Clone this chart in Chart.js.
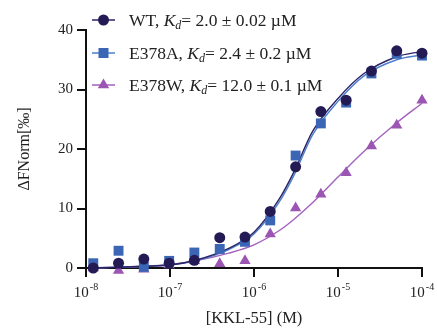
<!DOCTYPE html>
<html>
<head>
<meta charset="utf-8">
<script src="https://cdn.jsdelivr.net/npm/chart.js@4"></script>
<style>
  body { margin: 0; background: #fff; }
</style>
</head>
<body>
<canvas id="kdChart" width="437" height="329"></canvas>
<script>
// Measured points (concentration in M, response in per mille)
const conc = [1.22e-8, 2.44e-8, 4.88e-8, 9.77e-8, 1.95e-7, 3.91e-7, 7.81e-7,
              1.56e-6, 3.13e-6, 6.25e-6, 1.25e-5, 2.5e-5, 5e-5, 1e-4];
const wtValues    = [0.0, 0.8, 1.5, 0.8, 1.3, 5.1, 5.2, 9.5, 17.0, 26.3, 28.2, 33.1, 36.5, 36.1];
const e378aValues = [0.8, 2.9, 0.2, 1.2, 2.6, 3.2, 4.4, 8.0, 18.9, 24.3, 27.8, 32.7, 36.0, 35.7];
const e378wValues = [0.0, -0.4, -0.2, 0.5, 1.2, 0.7, 1.2, 5.7, 10.1, 12.4, 16.0, 20.5, 24.0, 28.2];

// Fitted curves
const fitConc = [1.2e-8, 2e-8, 5e-8, 1e-7, 2e-7, 5e-7, 1e-6, 2e-6, 3e-6, 5e-6, 1e-5, 2e-5, 5e-5, 1e-4];
const wtFit    = [0.0, 0.1, 0.3, 0.5, 1.3, 3.3, 6.0, 11.6, 16.2, 23.0, 28.5, 32.6, 35.5, 36.4];
const e378aFit = [0.0, 0.1, 0.3, 0.5, 1.2, 3.1, 5.7, 11.1, 15.6, 22.4, 28.0, 32.2, 35.0, 35.8];
const e378wFit = [0.0, 0.1, 0.3, 0.6, 1.2, 2.5, 3.9, 6.3, 8.2, 11.0, 15.3, 19.5, 24.4, 27.7];

const seriesNames = ["WT, ", "E378A, ", "E378W, "];
const kdTexts = ["= 2.0 \u00b1 0.02 \u00b5M", "= 2.4 \u00b1 0.2 \u00b5M", "= 12.0 \u00b1 0.1 \u00b5M"];

const xTickValues = [1e-8, 1e-7, 1e-6, 1e-5, 1e-4];
const xTickExps = ["-8", "-7", "-6", "-5", "-4"];
const yTickValues = [0, 10, 20, 30, 40];

const colors = ["#241b55", "#3b66b5", "#9b55b3"];
const curveColors = ["#2b2366", "#4d7fcc", "#a460bd"];
const styles = ["circle", "rect", "triangle"];
const radii = [5.5, 7, 6.5];

const serif = '"Liberation Serif", "Times New Roman", serif';

function pts(xs, ys) {
    return xs.map((x, i) => ({ x: x, y: ys[i] }));
}

const pointSets = [wtValues, e378aValues, e378wValues];
const fitSets = [wtFit, e378aFit, e378wFit];

const datasets = [];
pointSets.forEach((vals, i) => {
    datasets.push({
        data: pts(conc, vals),
        showLine: false,
        pointStyle: styles[i],
        pointRadius: radii[i],
        pointBackgroundColor: colors[i],
        pointBorderColor: colors[i],
        pointBorderWidth: 0,
        clip: false,
        order: i
    });
});
fitSets.forEach((vals, i) => {
    datasets.push({
        data: pts(fitConc, vals),
        showLine: true,
        pointRadius: 0,
        borderColor: curveColors[i],
        borderWidth: 1.4,
        cubicInterpolationMode: "monotone",
        clip: false,
        order: 10 + i
    });
});

// x tick labels with superscript exponent, and the legend
const drawExtras = {
    id: "drawExtras",
    afterDraw(chart) {
        const ctx = chart.ctx;
        const xs = chart.scales.x;
        ctx.save();
        ctx.fillStyle = "#222";
        ctx.textBaseline = "alphabetic";
        xTickValues.forEach((v, i) => {
            const px = xs.getPixelForValue(v);
            ctx.font = "15px " + serif;
            const bw = ctx.measureText("10").width;
            ctx.font = "10px " + serif;
            const ew = ctx.measureText(xTickExps[i]).width;
            const x0 = px - (bw + ew + 1) / 2;
            ctx.font = "15px " + serif;
            ctx.fillText("10", x0, 297);
            ctx.font = "10px " + serif;
            ctx.fillText(xTickExps[i], x0 + bw + 1, 290);
        });

        // legend
        const rowY = [20, 53, 85];
        rowY.forEach((y, i) => {
            ctx.strokeStyle = curveColors[i];
            ctx.lineWidth = 1.5;
            ctx.beginPath();
            ctx.moveTo(92, y);
            ctx.lineTo(115, y);
            ctx.stroke();
            ctx.fillStyle = colors[i];
            ctx.beginPath();
            if (styles[i] === "circle") {
                ctx.arc(103.5, y, 5.5, 0, Math.PI * 2);
            } else if (styles[i] === "rect") {
                ctx.rect(98.5, y - 5, 10, 10);
            } else {
                ctx.moveTo(103.5, y - 6.5);
                ctx.lineTo(109.2, y + 3.3);
                ctx.lineTo(97.8, y + 3.3);
                ctx.closePath();
            }
            ctx.fill();

            ctx.fillStyle = "#222";
            let x = 129;
            const base = y + 6;
            ctx.font = "17.5px " + serif;
            ctx.fillText(seriesNames[i], x, base);
            x += ctx.measureText(seriesNames[i]).width;
            ctx.font = "italic 17.5px " + serif;
            ctx.fillText("K", x, base);
            x += ctx.measureText("K").width;
            ctx.font = "italic 12px " + serif;
            ctx.fillText("d", x, base + 3);
            x += ctx.measureText("d").width;
            ctx.font = "17.5px " + serif;
            ctx.fillText(kdTexts[i], x, base);
        });
        ctx.restore();
    }
};

const axisGrid = {
    drawOnChartArea: false,
    drawTicks: true,
    tickLength: 9,
    color: "#111",
    lineWidth: 2
};

new Chart(document.getElementById("kdChart"), {
    type: "scatter",
    data: { datasets: datasets },
    options: {
        responsive: false,
        animation: false,
        layout: { padding: { left: 15, right: 15, top: 30, bottom: 0 } },
        plugins: {
            legend: { display: false },
            tooltip: { enabled: false }
        },
        scales: {
            x: {
                type: "logarithmic",
                min: 1e-8,
                max: 1e-4,
                afterBuildTicks: s => { s.ticks = xTickValues.map(v => ({ value: v })); },
                afterFit: s => { s.height = 61; },
                ticks: { display: false },
                grid: axisGrid,
                border: { color: "#111", width: 2 },
                title: {
                    display: true,
                    text: "[KKL-55] (M)",
                    color: "#222",
                    font: { family: serif, size: 16.5 },
                    padding: 0
                }
            },
            y: {
                min: 0,
                max: 40,
                afterBuildTicks: s => { s.ticks = yTickValues.map(v => ({ value: v })); },
                afterFit: s => { s.width = 71; },
                ticks: {
                    color: "#222",
                    font: { family: serif, size: 15 },
                    padding: 4
                },
                grid: axisGrid,
                border: { color: "#111", width: 2 },
                title: {
                    display: true,
                    text: "\u0394FNorm[\u2030]",
                    color: "#222",
                    font: { family: serif, size: 16 },
                    padding: 0
                }
            }
        }
    },
    plugins: [drawExtras]
});
</script>
</body>
</html>
